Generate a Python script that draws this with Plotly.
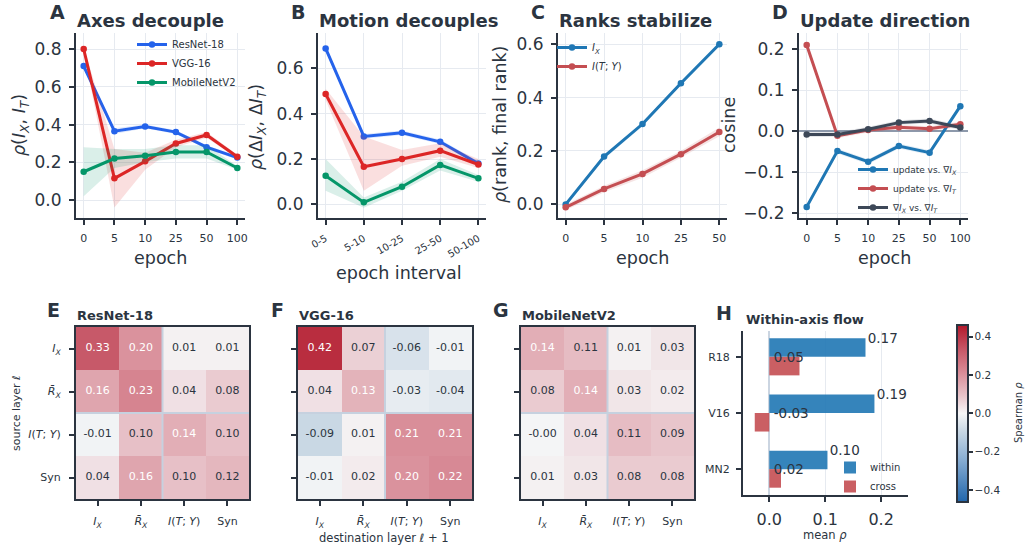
import plotly.graph_objects as go

W, H = 1027, 552
INK = "#2b3440"
GRID = "#e6eaf0"
FONT = "DejaVu Sans"

# ---------------- data ----------------
epochs = ["0", "5", "10", "25", "50", "100"]
intervals = ["0-5", "5-10", "10-25", "25-50", "50-100"]
rank_epochs = ["0", "5", "10", "25", "50"]
models = ["ResNet-18", "VGG-16", "MobileNetV2"]
model_short = ["R18", "V16", "MN2"]

# A: rho(I_X, I_T) per epoch, with spread across seeds
a_resnet = [0.71, 0.365, 0.39, 0.36, 0.28, 0.225]
a_resnet_lo = [0.70, 0.35, 0.38, 0.35, 0.27, 0.215]
a_resnet_hi = [0.72, 0.38, 0.40, 0.37, 0.29, 0.235]
a_vgg = [0.80, 0.115, 0.205, 0.30, 0.345, 0.23]
a_vgg_lo = [0.79, -0.04, 0.16, 0.28, 0.33, 0.22]
a_vgg_hi = [0.81, 0.27, 0.25, 0.32, 0.36, 0.24]
a_mobile = [0.15, 0.22, 0.235, 0.255, 0.255, 0.17]
a_mobile_lo = [0.02, 0.17, 0.20, 0.22, 0.22, 0.16]
a_mobile_hi = [0.28, 0.27, 0.27, 0.29, 0.29, 0.18]

# B: rho(dI_X, dI_T) per epoch interval
b_resnet = [0.688, 0.30, 0.316, 0.276, 0.18]
b_resnet_lo = [0.678, 0.29, 0.306, 0.266, 0.17]
b_resnet_hi = [0.698, 0.31, 0.326, 0.286, 0.19]
b_vgg = [0.487, 0.166, 0.20, 0.237, 0.176]
b_vgg_lo = [0.46, 0.06, 0.17, 0.21, 0.16]
b_vgg_hi = [0.51, 0.30, 0.24, 0.27, 0.20]
b_mobile = [0.126, 0.009, 0.078, 0.174, 0.115]
b_mobile_lo = [0.06, -0.015, 0.06, 0.15, 0.10]
b_mobile_hi = [0.20, 0.03, 0.10, 0.20, 0.13]

# C: rank correlation with final-epoch rank
c_ix = [0.0, 0.179, 0.301, 0.454, 0.60]
c_ix_lo = [-0.008, 0.171, 0.293, 0.446, 0.592]
c_ix_hi = [0.008, 0.187, 0.309, 0.462, 0.608]
c_ity = [-0.011, 0.058, 0.114, 0.188, 0.271]
c_ity_lo = [-0.022, 0.045, 0.100, 0.175, 0.255]
c_ity_hi = [0.000, 0.070, 0.128, 0.201, 0.288]

# D: cosine between update and gradients
d_upd_ix = [-0.184, -0.048, -0.074, -0.036, -0.052, 0.061]
d_upd_it = [0.21, -0.011, 0.003, 0.010, 0.006, 0.017]
d_ix_it = [-0.008, -0.008, 0.005, 0.021, 0.025, 0.009]
d_spread = [0.006, 0.006, 0.006, 0.006, 0.006, 0.006]

# E-G: layer-to-layer Spearman rho, source (rows) -> destination (cols)
axis_labels = ["<i>I<sub>X</sub></i>", "<i>R̄<sub>X</sub></i>",
               "<i>I</i>(<i>T</i>; <i>Y</i>)", "Syn"]
flow_resnet = [[0.33, 0.20, 0.01, 0.01],
               [0.16, 0.23, 0.04, 0.08],
               [-0.01, 0.10, 0.14, 0.10],
               [0.04, 0.16, 0.10, 0.12]]
flow_vgg = [[0.42, 0.07, -0.06, -0.01],
            [0.04, 0.13, -0.03, -0.04],
            [-0.09, 0.01, 0.21, 0.21],
            [-0.01, 0.02, 0.20, 0.22]]
flow_mobile = [[0.14, 0.11, 0.01, 0.03],
               [0.08, 0.14, 0.03, 0.02],
               [-0.004, 0.04, 0.11, 0.09],
               [0.01, 0.03, 0.08, 0.08]]
rho_lim = 0.462

# H: mean rho within vs across axes
h_within = [0.172, 0.188, 0.104]
h_cross = [0.054, -0.026, 0.021]

# ---------------- colours ----------------
C_RES, C_VGG, C_MOB = "#2563eb", "#dc2626", "#059669"
C_BLUE, C_RED, C_GRAY = "#1f77b4", "#c44e52", "#3d4858"


def rgba(hex_color, a):
    h = hex_color.lstrip("#")
    r, g, b = int(h[0:2], 16), int(h[2:4], 16), int(h[4:6], 16)
    return f"rgba({r},{g},{b},{a})"


def dx(x0, x1):
    return [x0 / W, x1 / W]


def dy(y0, y1):
    return [1 - y1 / H, 1 - y0 / H]


fig = go.Figure()


def line_with_band(xs, ys, lo, hi, color, name, ax, legend, show=True, band_alpha=0.15):
    fig.add_trace(go.Scatter(
        x=list(xs) + list(xs)[::-1], y=list(hi) + list(lo)[::-1],
        fill="toself", fillcolor=rgba(color, band_alpha), line=dict(width=0),
        mode="lines", hoverinfo="skip", showlegend=False,
        xaxis="x" + ax, yaxis="y" + ax))
    fig.add_trace(go.Scatter(
        x=list(xs), y=ys, mode="lines+markers", name=name,
        line=dict(color=color, width=3), marker=dict(color=color, size=6.5),
        xaxis="x" + ax, yaxis="y" + ax, legend=legend, showlegend=show))


# A
xa = list(range(len(epochs)))
line_with_band(xa, a_resnet, a_resnet_lo, a_resnet_hi, C_RES, models[0], "", "legend")
line_with_band(xa, a_vgg, a_vgg_lo, a_vgg_hi, C_VGG, models[1], "", "legend")
line_with_band(xa, a_mobile, a_mobile_lo, a_mobile_hi, C_MOB, models[2], "", "legend")

# B
xb = list(range(len(intervals)))
line_with_band(xb, b_resnet, b_resnet_lo, b_resnet_hi, C_RES, models[0], "2", "legend", False)
line_with_band(xb, b_vgg, b_vgg_lo, b_vgg_hi, C_VGG, models[1], "2", "legend", False)
line_with_band(xb, b_mobile, b_mobile_lo, b_mobile_hi, C_MOB, models[2], "2", "legend", False)

# C
xc = list(range(len(rank_epochs)))
line_with_band(xc, c_ix, c_ix_lo, c_ix_hi, C_BLUE, "<i>I<sub>X</sub></i>", "3", "legend2")
line_with_band(xc, c_ity, c_ity_lo, c_ity_hi, C_RED, "<i>I</i>(<i>T</i>; <i>Y</i>)", "3", "legend2")

# D
xd = list(range(len(epochs)))
for ys, col, nm in [
    (d_upd_ix, C_BLUE, "update vs. ∇<i>I<sub>X</sub></i>"),
    (d_upd_it, C_RED, "update vs. ∇<i>I<sub>T</sub></i>"),
    (d_ix_it, C_GRAY, "∇<i>I<sub>X</sub></i> vs. ∇<i>I<sub>T</sub></i>"),
]:
    lo = [v - s for v, s in zip(ys, d_spread)]
    hi = [v + s for v, s in zip(ys, d_spread)]
    line_with_band(xd, ys, lo, hi, col, nm, "4", "legend3", band_alpha=0.12)

# E-G heatmaps
colorscale = [
    [0.0, "#2166ac"], [0.25, "#8cb0d4"], [0.4, "#c8d7e4"], [0.5, "#f6f6f7"],
    [0.6, "#e8c4ca"], [0.75, "#d68490"], [0.86, "#c75868"], [1.0, "#b2182b"],
]
for mat, ax in [(flow_resnet, "5"), (flow_vgg, "6"), (flow_mobile, "7")]:
    n = len(mat)
    fig.add_trace(go.Heatmap(
        z=mat, x=list(range(n)), y=list(range(n)), coloraxis="coloraxis",
        xaxis="x" + ax, yaxis="y" + ax, hoverinfo="skip"))
    for light in (False, True):
        xs, ys, ts = [], [], []
        for i, row in enumerate(mat):
            for j, v in enumerate(row):
                if (v >= 0.125) == light:
                    xs.append(j)
                    ys.append(i)
                    ts.append(f"{v:.2f}")
        fig.add_trace(go.Scatter(
            x=xs, y=ys, text=ts, mode="text", showlegend=False, hoverinfo="skip",
            textfont=dict(size=11, family=FONT, color="white" if light else INK),
            xaxis="x" + ax, yaxis="y" + ax))
    # separators between the I_X block and the I(T;Y) block
    fig.add_shape(type="line", x0=1.5, x1=1.5, y0=-0.5, y1=n - 0.5,
                  xref="x" + ax, yref="y" + ax, line=dict(color="#c6d1df", width=2))
    fig.add_shape(type="line", y0=1.5, y1=1.5, x0=-0.5, x1=n - 0.5,
                  xref="x" + ax, yref="y" + ax, line=dict(color="#c6d1df", width=2))

# H
yh = list(range(len(model_short)))
fig.add_trace(go.Bar(
    y=yh, x=h_within, orientation="h", name="within", width=0.33, offset=-0.33,
    marker=dict(color=rgba(C_BLUE, 0.9), line=dict(width=0)),
    xaxis="x8", yaxis="y8", legend="legend4"))
fig.add_trace(go.Bar(
    y=yh, x=h_cross, orientation="h", name="cross", width=0.33, offset=0.0,
    marker=dict(color=rgba(C_RED, 0.9), line=dict(width=0)),
    xaxis="x8", yaxis="y8", legend="legend4"))
fig.add_trace(go.Scatter(
    x=[v + 0.004 for v in h_within], y=[i - 0.31 for i in yh],
    text=[f"{v:.2f}" for v in h_within], mode="text", textposition="middle right",
    textfont=dict(size=13.5, family=FONT, color=INK), showlegend=False,
    hoverinfo="skip", xaxis="x8", yaxis="y8"))
fig.add_trace(go.Scatter(
    x=[0.008] * len(h_cross), y=[i + 0.03 for i in yh],
    text=[f"{v:.2f}" for v in h_cross], mode="text", textposition="middle right",
    textfont=dict(size=13.5, family=FONT, color=INK), showlegend=False,
    hoverinfo="skip", xaxis="x8", yaxis="y8"))

# ---------------- axes ----------------
base = dict(showline=True, linecolor=INK, linewidth=2, ticks="outside", ticklen=5,
            tickwidth=1.5, tickcolor=INK, showgrid=True, gridcolor=GRID, gridwidth=1,
            zeroline=False, automargin=False, ticklabelstandoff=4)


def ax(**kw):
    d = dict(base)
    d.update(kw)
    return d


layout = dict(
    width=W, height=H, margin=dict(l=0, r=0, t=0, b=0),
    paper_bgcolor="white", plot_bgcolor="white",
    font=dict(family=FONT, color=INK),
    showlegend=True,
)

top_y = (33, 218)
# A
layout["xaxis"] = ax(domain=dx(76, 245), range=[-0.25, 5.25], tickvals=xa, ticktext=epochs,
                     tickfont=dict(size=11), anchor="y")
layout["yaxis"] = ax(domain=dy(*top_y), range=[-0.095, 0.885], tickvals=[0, 0.2, 0.4, 0.6, 0.8],
                     tickformat=".1f", tickfont=dict(size=17), anchor="x")
# B
layout["xaxis2"] = ax(domain=dx(318, 486), range=[-0.2, 4.2], tickvals=xb, ticktext=intervals,
                      tickfont=dict(size=10), tickangle=-30, anchor="y2")
layout["yaxis2"] = ax(domain=dy(*top_y), range=[-0.06, 0.756], tickvals=[0, 0.2, 0.4, 0.6],
                      tickformat=".1f", tickfont=dict(size=17), anchor="x2")
# C
layout["xaxis3"] = ax(domain=dx(558, 727), range=[-0.2, 4.2], tickvals=xc, ticktext=rank_epochs,
                      tickfont=dict(size=11), anchor="y3")
layout["yaxis3"] = ax(domain=dy(*top_y), range=[-0.051, 0.642], tickvals=[0, 0.2, 0.4, 0.6],
                      tickformat=".1f", tickfont=dict(size=17), anchor="x3")
# D
layout["xaxis4"] = ax(domain=dx(799, 968), range=[-0.25, 5.25], tickvals=xd, ticktext=epochs,
                      tickfont=dict(size=11), anchor="y4")
layout["yaxis4"] = ax(domain=dy(*top_y), range=[-0.211, 0.239],
                      tickvals=[-0.2, -0.1, 0, 0.1, 0.2], tickformat=".1f",
                      tickfont=dict(size=17), anchor="x4", zeroline=True,
                      zerolinecolor="#8d99ab", zerolinewidth=1.5)

# heatmaps
hm = dict(showline=True, mirror=True, linecolor=INK, linewidth=2, ticks="outside",
          ticklen=5, tickwidth=1.5, tickcolor=INK, showgrid=False, zeroline=False,
          automargin=False, ticklabelstandoff=6, tickfont=dict(size=11))
hm_y = (327, 499)
for k, (x0, x1) in zip(["5", "6", "7"], [(76, 249), (298, 472), (521, 694)]):
    layout["xaxis" + k] = dict(hm, domain=dx(x0, x1), range=[-0.5, 3.5], tickvals=list(range(4)),
                               ticktext=axis_labels, anchor="y" + k)
    layout["yaxis" + k] = dict(hm, domain=dy(*hm_y), range=[3.5, -0.5], tickvals=list(range(4)),
                               ticktext=axis_labels if k == "5" else [""] * 4,
                               anchor="x" + k)

# H
layout["xaxis8"] = ax(domain=dx(743, 908), range=[-0.047, 0.248], tickvals=[0, 0.1, 0.2],
                      tickformat=".1f", tickfont=dict(size=16), anchor="y8", zeroline=True,
                      zerolinecolor="#cbd5e1", zerolinewidth=1.5)
layout["yaxis8"] = ax(domain=dy(331, 495), range=[2.46, -0.46], tickvals=yh,
                      ticktext=model_short, tickfont=dict(size=11), showgrid=False,
                      anchor="x8")

layout["coloraxis"] = dict(
    colorscale=colorscale, cmin=-rho_lim, cmax=rho_lim,
    colorbar=dict(x=957 / W, xanchor="left", y=1 - 413.3 / H, yanchor="middle",
                  len=177, lenmode="pixels", thickness=11, thicknessmode="pixels",
                  outlinewidth=2, outlinecolor=INK, ticks="outside", ticklen=4,
                  tickwidth=1.5, tickcolor=INK, tickvals=[-0.4, -0.2, 0, 0.2, 0.4],
                  tickformat=".1f", tickfont=dict(size=10.5, color=INK), xpad=0, ypad=0),
)

legend_common = dict(bgcolor="rgba(0,0,0,0)", borderwidth=0, xanchor="left", yanchor="top")
layout["legend"] = dict(legend_common, x=132 / W, y=1 - 30 / H, font=dict(size=10))
layout["legend2"] = dict(legend_common, x=552 / W, y=1 - 33 / H, font=dict(size=10))
layout["legend3"] = dict(legend_common, x=853 / W, y=1 - 155 / H, font=dict(size=9))
layout["legend4"] = dict(legend_common, x=830 / W, y=1 - 453 / H, font=dict(size=10))

fig.update_layout(**layout)

# ---------------- text ----------------
def note(text, x, y, size, bold=False, angle=0, xanchor="center", yanchor="middle"):
    fig.add_annotation(text=f"<b>{text}</b>" if bold else text, x=x / W, y=1 - y / H,
                       xref="paper", yref="paper", showarrow=False, textangle=angle,
                       xanchor=xanchor, yanchor=yanchor, borderpad=0,
                       font=dict(size=size, family=FONT, color=INK))


for letter, x, y in [("A", 57, 0), ("B", 298, 0), ("C", 538, 0), ("D", 780, 0)]:
    note(letter, x, y, 19, bold=True, yanchor="top")
for letter, x, y in [("E", 53, 310), ("F", 277, 310), ("G", 501, 310), ("H", 724, 313)]:
    note(letter, x, y, 19, bold=True)

for title, x in [("Axes decouple", 76), ("Motion decouples", 318),
                 ("Ranks stabilize", 558), ("Update direction", 799)]:
    note(title, x, 20, 18, bold=True, xanchor="left")
for title, x, y in [(models[0], 76, 315), (models[1], 298, 315),
                    (models[2], 521, 315), ("Within-axis flow", 745, 319)]:
    note(title, x, y, 13, bold=True, xanchor="left")

note("<i>ρ</i>(<i>I<sub>X</sub></i>, <i>I<sub>T</sub></i>)", 20, 125, 17.5, angle=-90)
note("<i>ρ</i>(Δ<i>I<sub>X</sub></i>, Δ<i>I<sub>T</sub></i>)", 257, 127, 17.5, angle=-90)
note("<i>ρ</i>(rank, final rank)", 500, 125, 17.5, angle=-90)
note("cosine", 729, 125, 17.5, angle=-90)
note("epoch", 160, 258, 17.5)
note("epoch interval", 399, 273, 17.5)
note("epoch", 642, 258, 17.5)
note("epoch", 884, 258, 17.5)

note("source layer <i>ℓ</i>", 16, 413, 11, angle=-90)
note("destination layer <i>ℓ</i> + 1", 384, 538, 11.5)
note("mean <i>ρ</i>", 825, 535, 11.5)
note("Spearman <i>ρ</i>", 1018, 413, 10, angle=-90)

fig.write_html("out.html")
